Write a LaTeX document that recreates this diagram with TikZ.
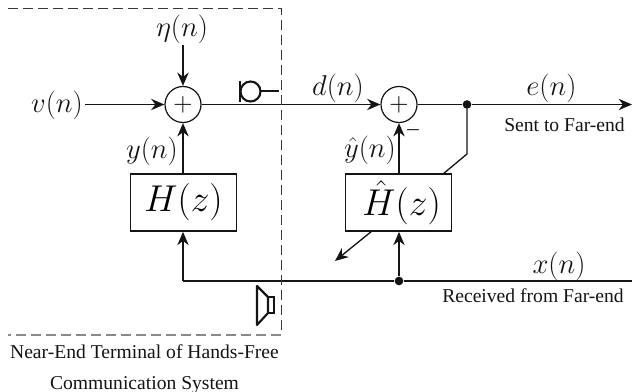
\documentclass[tikz,border=0pt]{standalone}
\usepackage{fix-cm}
\usepackage{amsmath,amssymb}
\usepackage{fontspec}
\setmainfont{Liberation Serif}
\usetikzlibrary{arrows.meta}
\definecolor{ink}{RGB}{20,20,20}
\begin{document}
\begin{tikzpicture}[x=0.75pt, y=-0.75pt,
    sumnode/.style={circle, draw=ink, line width=0.9pt, minimum size=27pt, inner sep=0pt, font=\fontsize{20}{24}\selectfont},
    filter/.style={rectangle, draw=ink, line width=1.05pt, minimum width=79.5pt, minimum height=43pt, inner sep=0pt, font=\fontsize{28}{30}\selectfont},
    junction/.style={circle, fill=ink, minimum size=6.5pt, inner sep=0pt},
    sig/.style={draw=ink, line width=1pt},
    arr/.style={sig, -{Stealth[length=10pt,width=8.5pt]}},
    lab/.style={font=\fontsize{21.5}{24}\selectfont, text=ink, inner sep=0pt},
    tag/.style={font=\fontsize{14.7}{19}\selectfont, text=ink, inner sep=0pt},
    frame/.style={draw=ink!85, line width=0.6pt, dash pattern=on 7.5pt off 3.75pt}]
  \useasboundingbox (0,0) rectangle (632,392);
  \node[sumnode] (s1) at (183,104.5) {$+$};
  \node[sumnode] (s2) at (399,104.5) {$+$};
  \node[filter] (h) at (183.5,202.5) {$H(z)$};
  \node[filter] (hh) at (398.5,202.5) {$\,\hat{H}(z)$};
  \node[junction] (je) at (467,104.5) {};
  \node[junction] (jx) at (399,281) {};
  \coordinate (vin) at (85,104.5);
  \coordinate (etain) at (183,45);
  \coordinate (eout) at (632,104.5);
  \coordinate (xin) at (632,281);
  \coordinate (xcorner) at (183,281);
  \coordinate (bend) at (467,154);
  \coordinate (adapt) at (335,261);
  \coordinate (ftl) at (8,8);
  \coordinate (ftr) at (281,8);
  \coordinate (fbr) at (281,335);
  \coordinate (fbl) at (8,335);
  % signal path
  \draw[arr] (vin) -- (s1.west);
  \draw[arr] (etain) -- (s1.north);
  \draw[arr] (xcorner |- h.north) -- (s1.south);
  \draw[arr] (s1.east) -- (s2.west);
  \draw[sig] (s2.east) -- (je);
  \draw[arr] (je) -- (eout);
  \draw[arr] (hh.north -| s2.south) -- (s2.south);
  \draw[sig] (je) -- (bend) -- (443,174);
  \draw[arr] (372,231) -- (adapt);
  \draw[sig] (xin) -- (jx);
  \draw[sig] (jx) -- (xcorner);
  \draw[arr] (xcorner) -- (xcorner |- h.south);
  \draw[arr] (jx) -- (jx |- hh.south);
  % terminal outline
  \draw[frame] (ftl) -- (ftr) -- (fbr);
  \draw[frame, draw=ink!50, line width=1pt] (fbr) -- (fbl);
  % microphone
  \draw[ink, line width=1.6pt] (240,81) -- (240,102);
  \draw[ink, line width=1.6pt] (250.5,91.5) circle (10);
  \draw[ink, line width=1.6pt] (260,91) -- (279,91);
  % loudspeaker
  \draw[ink, line width=1.6pt, line join=round] (257,286) -- (257,325) -- (268,313) -- (268,297) -- cycle;
  \draw[ink, line width=1.6pt] (268,297) rectangle (274,313);
  % labels
  \node[lab] (lv) at (57,105) {$v(n)$};
  \node[lab] (leta) at (182,29) {$\eta(n)$};
  \node[lab] (ly) at (152,151) {$y(n)$};
  \node[lab] (ld) at (338,88) {$d(n)$};
  \node[lab] (lyh) at (370,150) {$\hat{y}(n)$};
  \node[lab] (le) at (551.5,88) {$e(n)$};
  \node[lab] (lx) at (559,266) {$x(n)$};
  \node[ink, font=\fontsize{13}{13}\selectfont\boldmath, inner sep=0pt] (lm) at (413,130) {$-$};
  \node[tag] (lsent) at (564.5,125) {Sent to Far-end};
  \node[tag] (lrecv) at (533,296) {Received from Far-end};
  \node[tag, align=center, font=\fontsize{14.7}{23}\selectfont] (lterm) at (144.5,369) {Near-End Terminal of Hands-Free\\Communication System};
\end{tikzpicture}
\end{document}
